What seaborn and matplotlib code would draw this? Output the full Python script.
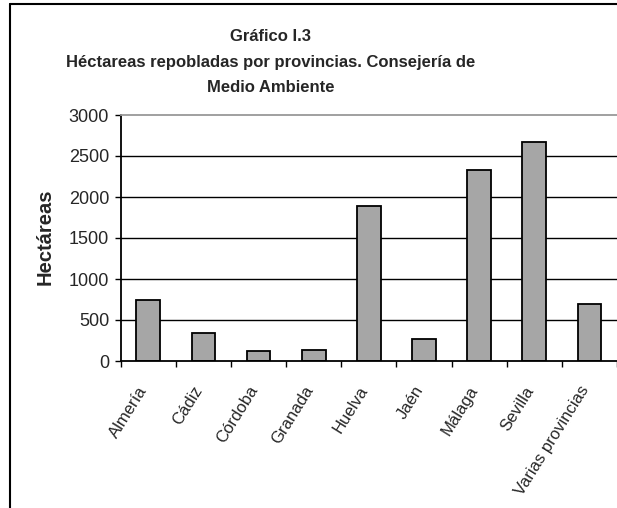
import matplotlib
matplotlib.use("Agg")
import matplotlib.pyplot as plt
import seaborn as sns
import pandas as pd
from matplotlib.lines import Line2D
from matplotlib.ticker import FixedLocator
from matplotlib.transforms import ScaledTranslation

provincias = ["Almería", "Cádiz", "Córdoba", "Granada", "Huelva", "Jaén",
              "Málaga", "Sevilla", "Varias provincias"]
hectareas = [750, 340, 120, 140, 1895, 265, 2325, 2675, 690]
y_ticks = [0, 500, 1000, 1500, 2000, 2500, 3000]

titulo = "Gráfico I.3\nHéctareas repobladas por provincias. Consejería de\nMedio Ambiente"
y_label = "Hectáreas"

sns.set_theme(style="white")
plt.rcParams["font.family"] = ["Liberation Sans", "DejaVu Sans"]

df = pd.DataFrame({"provincia": provincias, "hectareas": hectareas})

fig = plt.figure(figsize=(6.17, 5.08), dpi=100)
ax = fig.add_axes([120.7 / 617, 1 - 361 / 508, (617 - 120.7) / 617, (361 - 115) / 508])

sns.barplot(data=df, x="provincia", y="hectareas", color="#A6A6A6",
            edgecolor="black", linewidth=1.3, width=0.43, saturation=1, ax=ax)

ax.set_xlim(-0.5, len(provincias) - 0.5)
ax.set_ylim(0, 3000)
ax.set_yticks(y_ticks)
ax.set_yticklabels([str(v) for v in y_ticks], fontsize=13)
ax.set_xlabel("")
ax.set_ylabel("")

# gridlines
ax.yaxis.grid(True, color="black", linewidth=1.0)
ax.set_axisbelow(True)
for gl, v in zip(ax.get_ygridlines(), y_ticks):
    if v in (0, 3000):
        gl.set_visible(False)

for s in ["left", "bottom"]:
    ax.spines[s].set_color("black")
    ax.spines[s].set_linewidth(1.3)
ax.spines["top"].set_color("#999999")
ax.spines["top"].set_linewidth(1.3)
ax.spines["right"].set_visible(False)

ax.tick_params(axis="y", which="major", length=4.3, width=1.0, color="black",
               direction="out", left=True, pad=4)
# x ticks at category boundaries
ax.xaxis.set_minor_locator(FixedLocator([i - 0.5 for i in range(len(provincias) + 1)]))
ax.tick_params(axis="x", which="minor", length=4.3, width=1.0, color="black",
               direction="out", bottom=True)
ax.tick_params(axis="x", which="major", length=0, pad=19)
ax.set_xticks(range(len(provincias)))
ax.set_xticklabels(provincias, rotation=58, ha="right", va="center",
                   rotation_mode="anchor", fontsize=12)
for lbl in ax.get_xticklabels():
    lbl.set_transform(lbl.get_transform() + ScaledTranslation(-3 / 72, 0, fig.dpi_scale_trans))

fig.text(271 / 617, 1 - 62 / 508, titulo, ha="center", va="center",
         fontsize=12, fontweight="bold", linespacing=1.9)
fig.text(45 / 617, 1 - 237 / 508, y_label, ha="center", va="center",
         rotation=90, fontsize=14.5, fontweight="bold")

# outer chart frame (left and top)
fig.add_artist(Line2D([10.5 / 617, 10.5 / 617], [0, 1 - 3.5 / 508],
                      transform=fig.transFigure, color="black", linewidth=1.5))
fig.add_artist(Line2D([10.5 / 617, 1], [1 - 3.5 / 508, 1 - 3.5 / 508],
                      transform=fig.transFigure, color="black", linewidth=1.5))

fig.savefig("out.png", dpi=100)
